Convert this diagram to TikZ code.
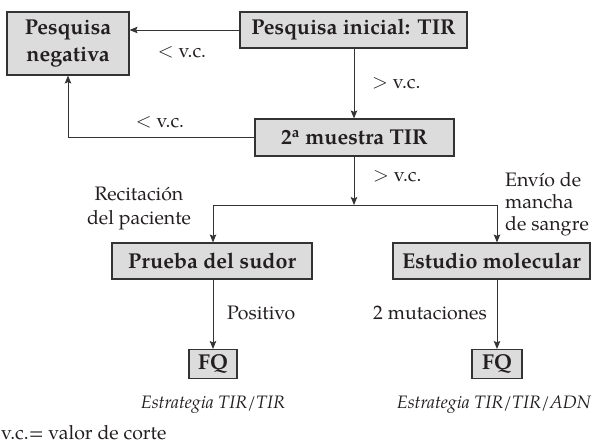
\documentclass[tikz,border=0pt]{standalone}
\usepackage{fontspec}
\setmainfont{TeX Gyre Pagella}
\usetikzlibrary{arrows.meta}
\definecolor{boxfill}{HTML}{DCDCDC}
\definecolor{boxline}{HTML}{333333}
\definecolor{txt}{HTML}{231F20}
\begin{document}
\begin{tikzpicture}[x=1pt,y=-1pt,
  box/.style={draw=boxline, fill=boxfill, line width=1.1pt, inner sep=0pt,
    font=\fontsize{21.5}{27}\selectfont\bfseries, text=txt, align=center},
  lbl/.style={font=\fontsize{19.5}{23}\selectfont, text=txt, inner sep=0pt},
  itl/.style={font=\fontsize{18}{21}\selectfont\itshape, text=txt, inner sep=0pt},
  arr/.style={draw=boxline, line width=0.9pt, -{Stealth[length=8pt,width=6.5pt,inset=1.5pt]}},
  ln/.style={draw=boxline, line width=0.9pt}]
\useasboundingbox (0,0) rectangle (592,445);
% boxes
\node[box, minimum width=122pt, minimum height=63pt] (neg) at (68,43.5) {Pesquisa\\negativa};
\node[box, minimum width=227pt, minimum height=36pt] (ini) at (353.5,30) {Pesquisa inicial: TIR};
\node[box, minimum width=199pt, minimum height=37pt] (mu2) at (354.5,137.5) {2\textsuperscript{a} muestra TIR};
\node[box, minimum width=200pt, minimum height=36pt] (sudor) at (212,261) {Prueba del sudor};
\node[box, minimum width=197pt, minimum height=36pt] (mol) at (491.5,261) {Estudio molecular};
\node[box, minimum width=48pt, minimum height=29pt] (fq1) at (213,364) {FQ};
\node[box, minimum width=50pt, minimum height=29pt] (fq2) at (497,364) {FQ};
% junctions
\coordinate (j) at (354,205);
\coordinate (jl) at (213,205);
\coordinate (jr) at (497,205);
% connectors
\draw[arr] (ini.west) -- (ini.west -| neg.east);
\draw[arr] (ini.south -| j) -- (mu2.north -| j);
\draw[arr] (mu2.west) -| (neg.south);
\draw[arr] (mu2.south -| j) -- (j);
\draw[ln] (jl) -- (jr);
\draw[arr] (jl) -- (jl |- sudor.north);
\draw[arr] (jr) -- (jr |- mol.north);
\draw[arr] (jl |- sudor.south) -- (fq1.north);
\draw[arr] (jr |- mol.south) -- (fq2.north);
% labels
\node[lbl] (l1) at (182,52) {$<$ v.c.};
\node[lbl] (l2) at (160,122) {$<$ v.c.};
\node[lbl, anchor=west] (l3) at (372,83) {$>$ v.c.};
\node[lbl, anchor=west] (l4) at (373,176) {$>$ v.c.};
\node[lbl, align=center, font=\fontsize{19.5}{24}\selectfont] (l5) at (139,208) {Recitación\\del paciente};
\node[lbl, align=left, anchor=west, font=\fontsize{19.5}{22}\selectfont] (l6) at (505,204) {Envío de\\mancha\\de sangre};
\node[lbl, anchor=west] (l7) at (227,313) {Positivo};
\node[lbl, anchor=east] (l8) at (487,313) {2 mutaciones};
\node[itl] (l9) at (213,405) {Estrategia TIR/TIR};
\node[itl, anchor=east] (l10) at (591,405) {Estrategia TIR/TIR/ADN};
\node[lbl, anchor=west] (l11) at (1,433) {v.c.= valor de corte};
\end{tikzpicture}
\end{document}
